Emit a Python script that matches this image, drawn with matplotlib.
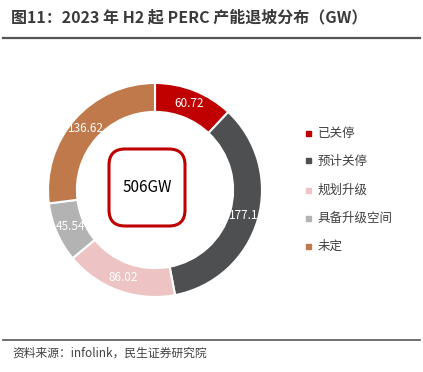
import matplotlib
matplotlib.use("Agg")
import matplotlib.pyplot as plt
from matplotlib.patches import FancyBboxPatch
from matplotlib.lines import Line2D
import numpy as np

plt.rcParams['font.family'] = ['Noto Sans CJK SC', 'DejaVu Sans']

# data
categories = ["已关停", "预计关停", "规划升级", "具备升级空间", "未定"]
values = [60.72, 177.1, 86.02, 45.54, 136.62]
labels = ["60.72", "177.1", "86.02", "45.54", "136.62"]
colors = ["#C00000", "#4D4F51", "#EEC3C3", "#B3B3B3", "#C0794A"]
center_text = "506GW"
title = "图11：2023 年 H2 起 PERC 产能退坡分布（GW）"
source = "资料来源：infolink，民生证券研究院"

W, H = 423, 372
fig = plt.figure(figsize=(W / 100, H / 100), dpi=100)

# title + rules
fig.text(11 / W, 1 - 17 / H, title, fontsize=11.5, fontweight='bold',
         color='#3a3a3a', va='center', ha='left')
fig.add_artist(Line2D([3 / W, 420 / W], [1 - 38 / H, 1 - 38 / H],
                      color='#555555', lw=1.6))
fig.add_artist(Line2D([3 / W, 420 / W], [1 - 340 / H, 1 - 340 / H],
                      color='#555555', lw=1.2))
fig.text(12 / W, 1 - 353 / H, source, fontsize=8.5, color='#404040',
         va='center', ha='left')

# donut
cx, cy, r = 155, 190, 107
ax = fig.add_axes([(cx - r) / W, (H - cy - r) / H, 2 * r / W, 2 * r / H])
width = 0.27
wedges, _ = ax.pie(values, colors=colors, startangle=90, counterclock=False,
                   radius=1, wedgeprops=dict(width=width, edgecolor='white', linewidth=1.5))
theta = 90.0
total = sum(values)
for v, lab in zip(values, labels):
    span = v / total * 360
    mid = np.deg2rad(theta - span / 2)
    rr = 1 - width / 2
    ax.text(rr * np.cos(mid), rr * np.sin(mid), lab, ha='center', va='center',
            fontsize=8.5, color='white')
    theta -= span
ax.set_xlim(-1, 1)
ax.set_ylim(-1, 1)
ax.set_aspect('equal')
ax.axis('off')

# center rounded box (slightly left of donut centre, as in the source)
bx, by = -8 / r, 2.5 / r
bw, bh = 76 / r, 77 / r
box = FancyBboxPatch((bx - bw / 2, by - bh / 2), bw, bh,
                     boxstyle="round,pad=0,rounding_size=0.15",
                     fc='white', ec='#C00000', lw=2.2)
ax.add_patch(box)
ax.text(bx, by, center_text, ha='center', va='center', fontsize=11, color='black')

# legend
ys = [133, 161, 190, 218, 246]
for yy, c, name in zip(ys, colors, categories):
    fig.add_artist(plt.Rectangle(((308 - 2.5) / W, 1 - (yy + 2.5) / H), 5 / W, 5 / H,
                                 color=c, transform=fig.transFigure))
    fig.text(318 / W, 1 - yy / H, name, fontsize=9, color='#404040',
             va='center', ha='left')

fig.savefig("out.png", dpi=100)
